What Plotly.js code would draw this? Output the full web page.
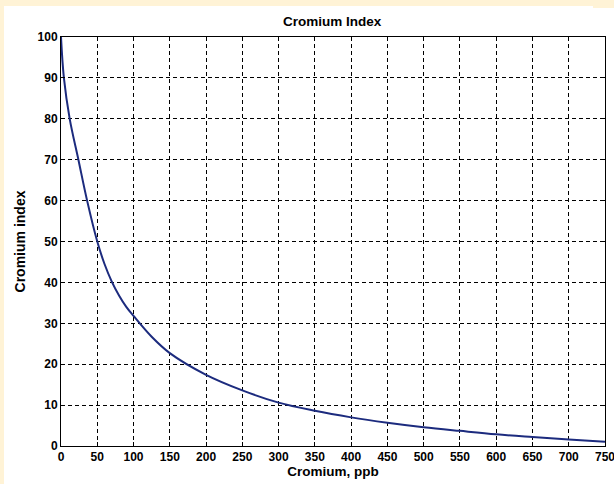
<!DOCTYPE html>
<html>
<head>
<meta charset="utf-8">
<script src="https://cdn.plot.ly/plotly-3.0.1.min.js"></script>
<style>
html,body{margin:0;padding:0;background:#fff3d6;width:614px;height:484px;overflow:hidden;}
#chart{position:absolute;left:4px;top:6px;width:610px;height:478px;overflow:hidden;}
#corner{position:absolute;left:593px;top:6px;width:21px;height:2px;background:#fff3d6;}
</style>
</head>
<body>
<div id="chart"></div>
<div id="corner"></div>
<script>
// Data
const chromiumPpb = [0, 4, 12, 24, 36, 50, 60, 70, 80, 90, 100, 125, 150, 200, 250, 300, 350, 400, 450, 500, 550, 600, 650, 700, 750];
const chromiumIndex = [100, 90, 80, 70, 60, 50, 44.5, 40.2, 36.8, 34.0, 31.8, 26.7, 22.7, 17.4, 13.6, 10.6, 8.6, 7.0, 5.7, 4.6, 3.7, 2.85, 2.2, 1.6, 1.05];
const xTicks = [0, 50, 100, 150, 200, 250, 300, 350, 400, 450, 500, 550, 600, 650, 700, 750];
const yTicks = [0, 10, 20, 30, 40, 50, 60, 70, 80, 90, 100];

const fontFam = '"Liberation Sans Narrow", "Arial Narrow", "Liberation Sans", Arial, sans-serif';

const trace = {
  x: chromiumPpb,
  y: chromiumIndex,
  type: 'scatter',
  mode: 'lines',
  line: {color: '#1c2b7e', width: 2, shape: 'spline', smoothing: 1},
  hoverinfo: 'x+y'
};

const axisCommon = {
  showline: true, linecolor: '#000', linewidth: 1, mirror: 'ticks',
  ticks: 'inside', ticklen: 4, tickcolor: '#000', tickwidth: 1,
  showgrid: true, gridcolor: '#000', gridwidth: 1, griddash: '4px,3px',
  zeroline: false, ticklabeloverflow: 'allow',
  tickfont: {family: fontFam, size: 12, color: '#000', weight: 'bold'}
};

const layout = {
  width: 610, height: 478,
  margin: {l: 57, r: 9, t: 31, b: 38},
  paper_bgcolor: '#ffffff',
  plot_bgcolor: '#ffffff',
  showlegend: false,
  title: {text: '<b>Cromium Index</b>', x: 0.538, xanchor: 'center', y: 0.978, yanchor: 'top',
          font: {family: fontFam, size: 13.5, color: '#000'}},
  xaxis: Object.assign({}, axisCommon, {
    range: [0, 750], tickvals: xTicks, ticktext: xTicks.map(String),
    title: {text: '<b>Cromium, ppb</b>', standoff: 3, font: {family: fontFam, size: 13.5, color: '#000'}}
  }),
  yaxis: Object.assign({}, axisCommon, {
    range: [0, 100], tickvals: yTicks, ticktext: yTicks.map(String),
    title: {text: '<b>Cromium index</b>', standoff: 8, font: {family: fontFam, size: 14, color: '#000'}}
  })
};

Plotly.newPlot('chart', [trace], layout, {displayModeBar: false, staticPlot: true});
</script>
</body>
</html>
